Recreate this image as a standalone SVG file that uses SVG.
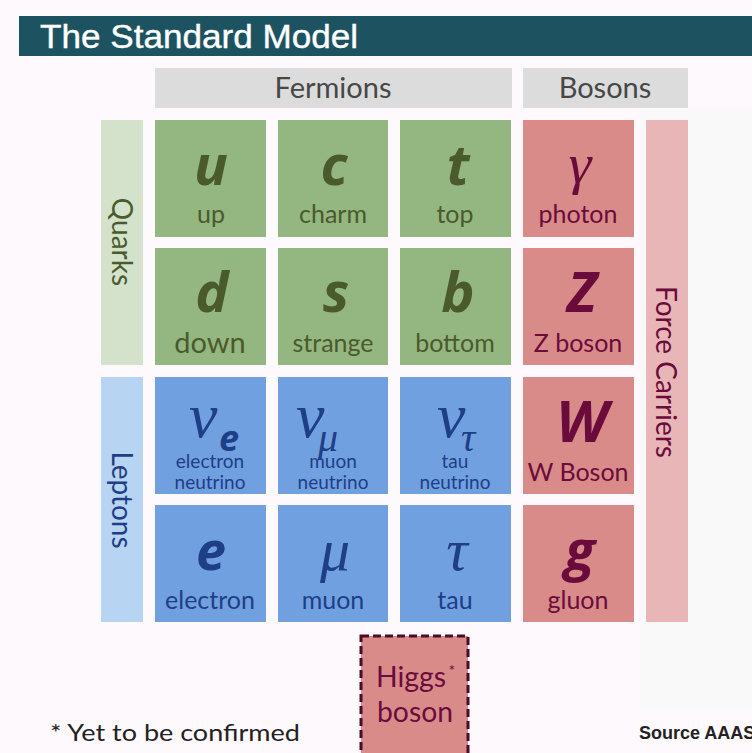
<svg xmlns="http://www.w3.org/2000/svg" width="752" height="753" viewBox="0 0 752 753">
<style>
.lbl{font-family:Lato,"Open Sans",sans-serif;text-anchor:middle}
.sym{font-family:"Open Sans","DejaVu Sans",sans-serif;font-weight:700;font-style:italic;text-anchor:middle}
.gr{font-family:"Liberation Serif","DejaVu Serif",serif;font-style:italic}
.q{fill:#94b680}.qt{fill:#4b5a2c}
.l{fill:#71a0e1}.lt{fill:#1e3e86}
.b{fill:#d98b89}.bt{fill:#6b0b3c}
.hdr{fill:#dcdcdc}
</style>
<rect x="0" y="0" width="752" height="753" fill="#fdf9fc"/>
<rect x="640" y="110" width="112" height="600" fill="#f9f9f9"/>
<g id="title">
<rect x="19" y="16" width="733" height="40" fill="#1d5360"/>
<text x="40" y="48" font-family="Liberation Sans,Arial,sans-serif" font-size="33" fill="#ffffff" stroke="#ffffff" stroke-width="0.4" textLength="318" lengthAdjust="spacingAndGlyphs">The Standard Model</text>
</g>
<g id="fermions-header">
<rect class="hdr" x="155" y="68" width="357" height="40"/>
<text class="lbl" x="333" y="98" font-size="29" fill="#474747">Fermions</text>
</g>
<g id="bosons-header">
<rect class="hdr" x="523" y="68" width="165" height="40"/>
<text class="lbl" x="605" y="98" font-size="29" fill="#474747">Bosons</text>
</g>
<g id="quarks-label">
<rect x="101" y="120" width="42" height="245" fill="#d4e2cc"/>
<text class="lbl" font-size="28" fill="#4b5a2c" transform="translate(112,242) rotate(90)">Quarks</text>
</g>
<g id="leptons-label">
<rect x="101" y="377" width="42" height="245" fill="#b8d4f3"/>
<text class="lbl" font-size="28" fill="#1e3e86" transform="translate(112,500) rotate(90)">Leptons</text>
</g>
<g id="force-carriers-label">
<rect x="646" y="120" width="42" height="502" fill="#e8b6b7"/>
<text class="lbl" font-size="28" fill="#6b0b3c" transform="translate(656,372) rotate(90)">Force Carriers</text>
</g>
<g id="up"><rect class="q" x="155" y="120" width="111" height="117"/>
<text class="sym qt" x="211" y="185" font-size="56">u</text>
<text class="lbl qt" x="211" y="223" font-size="25">up</text></g>
<g id="charm"><rect class="q" x="278" y="120" width="110" height="117"/>
<text class="sym qt" x="334" y="185" font-size="56">c</text>
<text class="lbl qt" x="333" y="223" font-size="25">charm</text></g>
<g id="top"><rect class="q" x="400" y="120" width="111" height="117"/>
<text class="sym qt" x="458" y="185" font-size="56">t</text>
<text class="lbl qt" x="455" y="223" font-size="25">top</text></g>
<g id="photon"><rect class="b" x="523" y="120" width="111" height="117"/>
<text class="gr bt" x="580" y="183" font-size="58" text-anchor="middle">γ</text>
<text class="lbl bt" x="578" y="223" font-size="25">photon</text></g>
<g id="down"><rect class="q" x="155" y="248" width="111" height="117"/>
<text class="sym qt" x="212" y="312" font-size="56">d</text>
<text class="lbl qt" x="210" y="353" font-size="29">down</text></g>
<g id="strange"><rect class="q" x="278" y="248" width="110" height="117"/>
<text class="sym qt" x="336" y="312" font-size="56">s</text>
<text class="lbl qt" x="333" y="352" font-size="25">strange</text></g>
<g id="bottom"><rect class="q" x="400" y="248" width="111" height="117"/>
<text class="sym qt" x="458" y="312" font-size="56">b</text>
<text class="lbl qt" x="455" y="352" font-size="25">bottom</text></g>
<g id="z-boson"><rect class="b" x="523" y="248" width="111" height="117"/>
<text class="sym bt" x="582" y="312" font-size="56">Z</text>
<text class="lbl bt" x="578" y="352" font-size="25">Z boson</text></g>
<g id="electron-neutrino"><rect class="l" x="155" y="377" width="111" height="117"/>
<text class="gr lt" x="189" y="437" font-size="64">ν</text>
<text class="sym lt" x="229" y="451" font-size="36">e</text>
<text class="lbl lt" x="210" y="468" font-size="19">electron</text>
<text class="lbl lt" x="210" y="489" font-size="19">neutrino</text></g>
<g id="muon-neutrino"><rect class="l" x="278" y="377" width="110" height="117"/>
<text class="gr lt" x="296" y="437" font-size="64">ν</text>
<text class="gr lt" x="318" y="451" font-size="40">μ</text>
<text class="lbl lt" x="333" y="468" font-size="19">muon</text>
<text class="lbl lt" x="333" y="489" font-size="19">neutrino</text></g>
<g id="tau-neutrino"><rect class="l" x="400" y="377" width="111" height="117"/>
<text class="gr lt" x="437" y="437" font-size="64">ν</text>
<text class="gr lt" x="461" y="451" font-size="40">τ</text>
<text class="lbl lt" x="455" y="468" font-size="19">tau</text>
<text class="lbl lt" x="455" y="489" font-size="19">neutrino</text></g>
<g id="w-boson"><rect class="b" x="523" y="377" width="111" height="117"/>
<text class="sym bt" x="582" y="442" font-size="58">W</text>
<text class="lbl bt" x="578" y="481" font-size="25">W Boson</text></g>
<g id="electron"><rect class="l" x="155" y="505" width="111" height="117"/>
<text class="sym lt" x="211" y="570" font-size="54">e</text>
<text class="lbl lt" x="210" y="609" font-size="25">electron</text></g>
<g id="muon"><rect class="l" x="278" y="505" width="110" height="117"/>
<text class="gr lt" x="335" y="570" font-size="60" text-anchor="middle">μ</text>
<text class="lbl lt" x="333" y="609" font-size="25">muon</text></g>
<g id="tau"><rect class="l" x="400" y="505" width="111" height="117"/>
<text class="gr lt" x="457" y="570" font-size="60" text-anchor="middle">τ</text>
<text class="lbl lt" x="455" y="609" font-size="25">tau</text></g>
<g id="gluon"><rect class="b" x="523" y="505" width="111" height="117"/>
<text class="sym bt" x="580" y="570" font-size="56">g</text>
<text class="lbl bt" x="578" y="609" font-size="25">gluon</text></g>
<g id="higgs-boson">
<rect x="361" y="636" width="107" height="130" fill="#d98b89" stroke="#4e0a26" stroke-width="3" stroke-dasharray="8 4"/>
<text class="lbl bt" x="411" y="687" font-size="29" textLength="70" lengthAdjust="spacingAndGlyphs">Higgs</text>
<text class="lbl bt" x="452" y="676" font-size="16">*</text>
<text class="lbl bt" x="415" y="722" font-size="29" textLength="76" lengthAdjust="spacingAndGlyphs">boson</text>
</g>
<g id="footnotes">
<text x="50" y="741" font-family="Lato,'Open Sans',sans-serif" font-size="24" fill="#222" textLength="250" lengthAdjust="spacingAndGlyphs">* Yet to be confirmed</text>
<text x="639" y="739" font-family="Liberation Sans,Arial,sans-serif" font-size="18" font-weight="700" fill="#222">Source AAAS</text>
</g>
<g id="connectors"/>
</svg>
